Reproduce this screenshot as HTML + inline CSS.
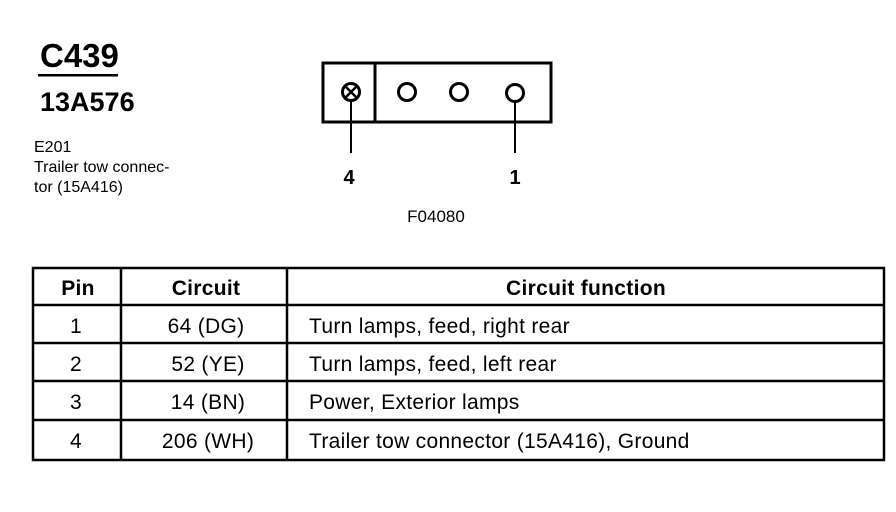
<!DOCTYPE html>
<html><head><style>body{margin:0;background:#fff}svg{display:block}</style></head><body>
<svg width="896" height="512" viewBox="0 0 896 512" xmlns="http://www.w3.org/2000/svg" font-family="Liberation Sans, Arial, sans-serif">
<rect width="896" height="512" fill="#fff"/>
<text x="40" y="67" font-size="33" font-weight="bold">C439</text>
<rect x="38" y="74" width="80" height="2.5" fill="#000"/>
<text x="40" y="111" font-size="27" font-weight="bold">13A576</text>
<g font-size="16">
<text x="34" y="152">E201</text>
<text x="34" y="172">Trailer tow connec-</text>
<text x="34" y="192">tor (15A416)</text>
</g>
<g stroke="#000" fill="none" stroke-width="3">
<rect x="323" y="63" width="228" height="59"/>
<line x1="375" y1="63" x2="375" y2="122"/>
<circle cx="351" cy="92" r="8.5"/>
<circle cx="407" cy="92" r="8.5"/>
<circle cx="459" cy="92" r="8.5"/>
<circle cx="515" cy="93" r="8.5"/>
<line x1="345.5" y1="86.5" x2="356.5" y2="97.5" stroke-width="2.5"/>
<line x1="356.5" y1="86.5" x2="345.5" y2="97.5" stroke-width="2.5"/>
<line x1="351" y1="100" x2="351" y2="153" stroke-width="2"/>
<line x1="515" y1="101" x2="515" y2="153" stroke-width="2"/>
</g>
<text x="349" y="184" font-size="20" font-weight="bold" text-anchor="middle">4</text>
<text x="515" y="184" font-size="20" font-weight="bold" text-anchor="middle">1</text>
<text x="436" y="222" font-size="17" text-anchor="middle">F04080</text>
<g stroke="#000" stroke-width="2.5" fill="none">
<rect x="33" y="268" width="851" height="192"/>
<line x1="33" y1="305" x2="884" y2="305"/>
<line x1="33" y1="343" x2="884" y2="343"/>
<line x1="33" y1="381" x2="884" y2="381"/>
<line x1="33" y1="420" x2="884" y2="420"/>
<line x1="121" y1="268" x2="121" y2="460"/>
<line x1="287" y1="268" x2="287" y2="460"/>
</g>
<g font-size="21" letter-spacing="0.3">
<text x="78" y="295" text-anchor="middle" font-weight="bold">Pin</text>
<text x="206" y="295" text-anchor="middle" font-weight="bold">Circuit</text>
<text x="586" y="295" text-anchor="middle" font-weight="bold">Circuit function</text>
<text x="76" y="333" text-anchor="middle">1</text>
<text x="206" y="333" text-anchor="middle">64 (DG)</text>
<text x="309" y="333">Turn lamps, feed, right rear</text>
<text x="76" y="371" text-anchor="middle">2</text>
<text x="208" y="371" text-anchor="middle">52 (YE)</text>
<text x="309" y="371">Turn lamps, feed, left rear</text>
<text x="76" y="409" text-anchor="middle">3</text>
<text x="208" y="409" text-anchor="middle">14 (BN)</text>
<text x="309" y="409">Power, Exterior lamps</text>
<text x="76" y="448" text-anchor="middle">4</text>
<text x="208" y="448" text-anchor="middle">206 (WH)</text>
<text x="309" y="448">Trailer tow connector (15A416), Ground</text>
</g>
</svg>
</body></html>
